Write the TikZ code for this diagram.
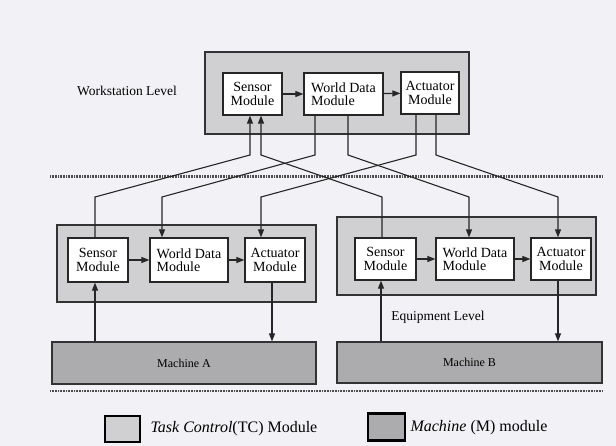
\documentclass[tikz,border=0pt]{standalone}
\usepackage{fontspec}
\setmainfont{Liberation Serif}
\usetikzlibrary{arrows.meta, positioning}

\definecolor{tcgray}{RGB}{208,208,210}
\definecolor{mgray}{RGB}{172,172,174}
\definecolor{paper}{RGB}{242,242,246}

\begin{document}
\begin{tikzpicture}[x=1pt, y=-1pt, >={Triangle[length=8pt, width=6pt]}]
		\tikzstyle{tcbox} = [draw=black!80, fill=tcgray, line width=1.2pt, inner sep=0pt]
		\tikzstyle{mbox} = [draw=black!80, fill=mgray, line width=1.2pt, inner sep=0pt, font=\fontsize{12}{12}\selectfont]
		\tikzstyle{module} = [draw=black!85, fill=white, line width=1.2pt, inner sep=1pt, align=center, font=\fontsize{14}{13.5}\selectfont]
		\tikzstyle{label} = [draw=none, font=\fontsize{13.5}{15}\selectfont]
		\tikzstyle{legend} = [draw=black, line width=2.2pt, inner sep=0pt]
		\tikzstyle{sep} = [line width=2.2pt, black!70, dash pattern=on 0.8pt off 0.8pt]
		\tikzstyle{link} = [line width=1.1pt, black!85]
		
		% page
		\fill[paper] (0,0) rectangle (616,446);
		\useasboundingbox (0,0) rectangle (616,446);
		
		% workstation level
		\node[tcbox, minimum width=264pt, minimum height=82pt]	at (337, 93)	(wtc)	{};
		\node[module, minimum width=59pt, minimum height=42pt]	at (252.5, 94)	(wsen)	{Sensor\\Module};
		\node[module, minimum width=79pt, minimum height=42pt, align=left]	at (343.5, 94)	(wwd)	{World Data\\Module};
		\node[module, minimum width=58pt, minimum height=42pt]	at (430, 93)	(wact)	{Actuator\\Module};
		\node[label]	at (127, 91)	(wlev)	{Workstation Level};
		
		% equipment level, left
		\node[tcbox, minimum width=259pt, minimum height=77pt]	at (186.5, 263.5)	(ltc)	{};
		\node[module, minimum width=60pt, minimum height=44pt]	at (98, 260)	(lsen)	{Sensor\\Module};
		\node[module, minimum width=78pt, minimum height=44pt, align=left]	at (189, 260)	(lwd)	{World Data\\Module};
		\node[module, minimum width=60pt, minimum height=44pt]	at (275, 260)	(lact)	{Actuator\\Module};
		\node[mbox, minimum width=264pt, minimum height=42pt]	at (184, 363)	(ma)	{Machine A};
		
		% equipment level, right
		\node[tcbox, minimum width=259pt, minimum height=78pt]	at (466.5, 256)	(rtc)	{};
		\node[module, minimum width=61pt, minimum height=42pt]	at (385.5, 259)	(rsen)	{Sensor\\Module};
		\node[module, minimum width=78pt, minimum height=42pt, align=left]	at (475, 259)	(rwd)	{World Data\\Module};
		\node[module, minimum width=60pt, minimum height=42pt]	at (561, 259)	(ract)	{Actuator\\Module};
		\node[mbox, minimum width=265pt, minimum height=41pt]	at (469.5, 362.5)	(mb)	{Machine B};
		\node[label]	at (438, 317)	(elev)	{Equipment Level};
		
		% separators
		\coordinate (s1) at (50, 176.5);
		\coordinate (s2) at (603, 176.5);
		\coordinate (s3) at (50, 391);
		\coordinate (s4) at (603, 391);
		\draw[sep] (s1) -- (s2);
		\draw[sep] (s3) -- (s4);
		
		% flow inside the modules
		\path[->, link]
		(wsen)	edge	(wwd)
		(wwd)	edge	(wact)
		(lsen)	edge	(lwd)
		(lwd)	edge	(lact)
		(rsen)	edge	(rwd)
		(rwd)	edge	(ract);
		
		% machines
		\draw[->, link] ([xshift=-3pt]lsen.south |- ma.north) -- ([xshift=-3pt]lsen.south);
		\draw[->, link] ([xshift=-3pt]lact.south) -- ([xshift=-3pt]lact.south |- ma.north);
		\draw[->, link] ([xshift=-4.5pt]rsen.south |- mb.north) -- ([xshift=-4.5pt]rsen.south);
		\draw[->, link] ([xshift=-3pt]ract.south) -- ([xshift=-3pt]ract.south |- mb.north);
		
		% between the levels
		\draw[->, link] ([xshift=-3pt]lsen.north) -- ([xshift=-3pt]lsen.north |- 0,197) -- ([xshift=-2.5pt]wsen.south |- 0,155) -- ([xshift=-2.5pt]wsen.south);
		\draw[->, link] ([xshift=-3.5pt]rsen.north) -- ([xshift=-3.5pt]rsen.north |- 0,197) -- ([xshift=8.5pt]wsen.south |- 0,155) -- ([xshift=8.5pt]wsen.south);
		\draw[->, link] ([xshift=-28.5pt]wwd.south) -- ([xshift=-28.5pt]wwd.south |- 0,155) -- ([xshift=-27pt]lwd.north |- 0,197) -- ([xshift=-27pt]lwd.north);
		\draw[->, link] ([xshift=4.5pt]wwd.south) -- ([xshift=4.5pt]wwd.south |- 0,155) -- ([xshift=-6pt]rwd.north |- 0,197) -- ([xshift=-6pt]rwd.north);
		\draw[->, link] ([xshift=-14pt]wact.south) -- ([xshift=-14pt]wact.south |- 0,155) -- ([xshift=-14pt]lact.north |- 0,197) -- ([xshift=-14pt]lact.north);
		\draw[->, link] ([xshift=6pt]wact.south) -- ([xshift=6pt]wact.south |- 0,155) -- ([xshift=-3pt]ract.north |- 0,197) -- ([xshift=-3pt]ract.north);
		
		% legend
		\node[legend, fill=tcgray, minimum width=35pt, minimum height=26pt]	at (122.5, 429)	(ktc)	{};
		\node[label, anchor=west, font=\fontsize{16}{18}\selectfont]	at (147, 429)	(ktctext)	{\textit{Task Control}(TC) Module};
		\node[legend, fill=mgray, minimum width=37pt, minimum height=27pt]	at (386.5, 427)	(km)	{};
		\node[label, anchor=west, font=\fontsize{16}{18}\selectfont]	at (407, 428)	(kmtext)	{\textit{Machine} (M) module};
\end{tikzpicture}
\end{document}
